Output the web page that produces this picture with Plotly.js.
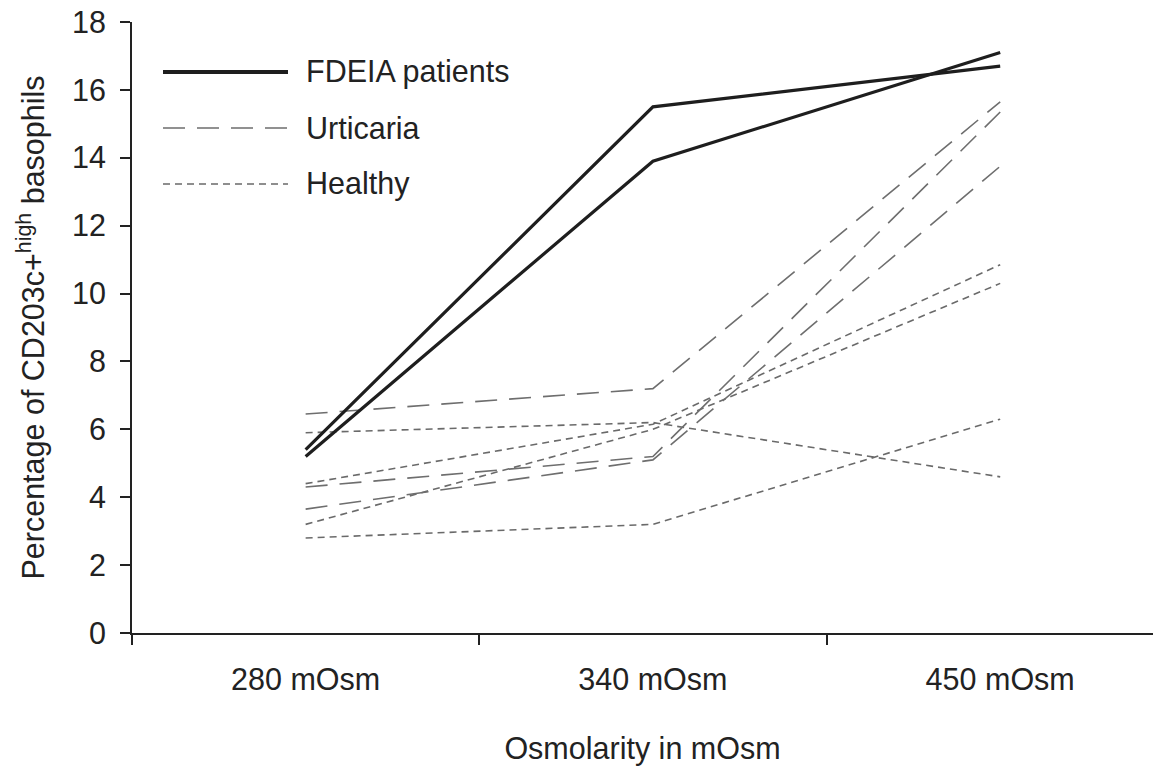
<!DOCTYPE html>
<html>
<head>
<meta charset="utf-8">
<script src="https://cdn.plot.ly/plotly-3.0.1.min.js"></script>
<style>html,body{margin:0;padding:0;background:#fff;}#chart{width:1153px;height:766px;}</style>
</head>
<body>
<div id="chart"></div>
<script>
// ---- data ----
const categories = ['280 mOsm', '340 mOsm', '450 mOsm'];

const fdeia1 = [5.4, 15.5, 16.7];
const fdeia2 = [5.2, 13.9, 17.1];

const urticaria1 = [6.45, 7.2, 15.65];
const urticaria2 = [4.3, 5.2, 15.35];
const urticaria3 = [3.65, 5.1, 13.75];

const healthy1 = [5.9, 6.2, 4.6];
const healthy2 = [4.4, 6.15, 10.85];
const healthy3 = [3.2, 6.0, 10.3];
const healthy4 = [2.8, 3.2, 6.3];

const legendLabels = ['FDEIA patients', 'Urticaria', 'Healthy'];
const yTitle = 'Percentage of CD203c+<sup>high</sup> basophils';
const xTitle = 'Osmolarity in mOsm';

// ---- styles ----
const FONT = 'Arial, "Liberation Sans", sans-serif';
const TXT = '#222222';
const FS = 30.5;
const solidStyle = {color: '#1e1e1e', width: 3.2, dash: 'solid'};
const urtStyle = {color: '#6e6e6e', width: 1.6, dash: '22px,12px'};
const heaStyle = {color: '#6a6a6a', width: 1.6, dash: '7px,5px'};

function tr(y, line, name) {
  return {x: categories, y: y, type: 'scatter', mode: 'lines', line: line,
          name: name, showlegend: false, hoverinfo: 'y'};
}

const traces = [
  tr(healthy1, heaStyle, 'Healthy'),
  tr(healthy2, heaStyle, 'Healthy'),
  tr(healthy3, heaStyle, 'Healthy'),
  tr(healthy4, heaStyle, 'Healthy'),
  tr(urticaria1, urtStyle, 'Urticaria'),
  tr(urticaria2, urtStyle, 'Urticaria'),
  tr(urticaria3, urtStyle, 'Urticaria'),
  tr(fdeia1, solidStyle, 'FDEIA patients'),
  tr(fdeia2, solidStyle, 'FDEIA patients')
];

// custom legend (long line samples like the reference)
const W = 1153, H = 766;
const mL = 132, mR = 0, mT = 22, mB = 133;
const pw = W - mL - mR, ph = H - mT - mB;
const px = v => (v - mL) / pw;
const py = v => (H - mB - v) / ph;
const legStyles = [solidStyle, urtStyle, heaStyle];
const legY = [72, 128, 184];
const shapes = [], annotations = [];
legendLabels.forEach((lab, i) => {
  const st = legStyles[i];
  shapes.push({type: 'line', xref: 'paper', yref: 'paper',
    x0: px(163), x1: px(288), y0: py(legY[i]), y1: py(legY[i]),
    line: {color: st.color, width: i === 0 ? 4 : st.width, dash: st.dash}});
  annotations.push({xref: 'paper', yref: 'paper', x: px(304), y: py(legY[i]),
    xanchor: 'left', yanchor: 'middle', showarrow: false, text: lab,
    font: {family: FONT, size: FS, color: TXT}});
});

const layout = {
  width: W, height: H,
  margin: {l: mL, r: mR, t: mT, b: mB, pad: 0},
  paper_bgcolor: '#ffffff', plot_bgcolor: '#ffffff',
  font: {family: FONT, size: FS, color: TXT},
  showlegend: false,
  xaxis: {
    type: 'category', range: [-0.5, 2.44],
    showline: true, linecolor: '#222', linewidth: 2,
    ticks: 'outside', tickson: 'boundaries', ticklen: 10, tickwidth: 2, tickcolor: '#222',
    showgrid: false, zeroline: false, ticklabelstandoff: 18,
    tickfont: {family: FONT, size: FS, color: TXT},
    title: {text: xTitle, font: {family: FONT, size: FS, color: TXT}, standoff: 46}
  },
  yaxis: {
    range: [0, 18], dtick: 2, tick0: 0,
    showline: true, linecolor: '#222', linewidth: 2,
    ticks: 'outside', ticklen: 10, tickwidth: 2, tickcolor: '#222',
    showgrid: false, zeroline: false, ticklabelstandoff: 8,
    tickfont: {family: FONT, size: FS, color: TXT},
    title: {text: yTitle, font: {family: FONT, size: FS, color: TXT}, standoff: 18}
  },
  shapes: shapes,
  annotations: annotations
};

Plotly.newPlot('chart', traces, layout, {displayModeBar: false, staticPlot: true});
</script>
</body>
</html>
